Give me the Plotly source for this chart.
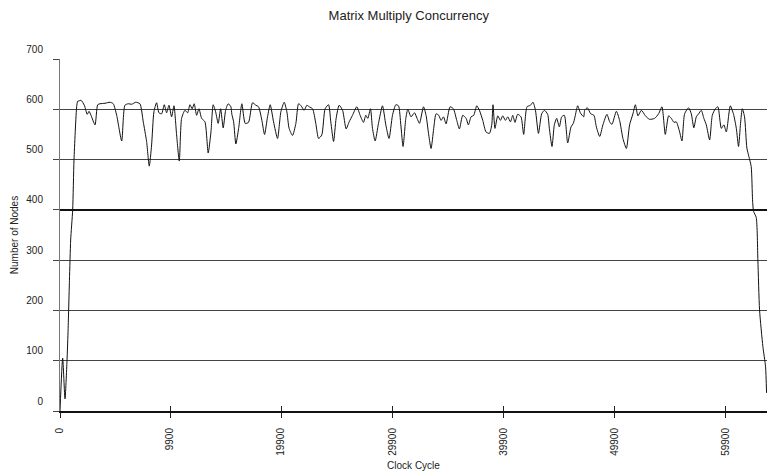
import plotly.graph_objects as go

title_text = "Matrix Multiply Concurrency"
x_title = "Clock Cycle"
y_title = "Number of Nodes"

x_tick_vals = [0, 9900, 19900, 29900, 39900, 49900, 59900]
x_tick_text = ["0", "9900", "19900", "29900", "39900", "49900", "59900"]
y_tick_vals = [0, 100, 200, 300, 400, 500, 600, 700]
y_bold_grid = [400]

cycles = [0, 240, 450, 630, 720, 850, 960, 1140, 1260, 1500, 1590, 1750, 1890, 2190, 2450, 2610, 2790, 3150,
          3390, 3600, 4050, 4500, 4790, 5100, 5550, 5840, 6140, 6450, 6810, 7190, 7490, 7790, 8030, 8240,
          8450, 8690, 8900, 9140, 9380, 9590, 9800, 10040, 10250, 10490, 10730, 10940, 11240, 11480, 11690,
          11890, 12070, 12290, 12500, 12740, 13040, 13330, 13580, 13780, 14000, 14230, 14450, 14680, 14900,
          15130, 15370, 15460, 15620, 15820, 16070, 16360, 16660, 16960, 17320, 17620, 17860, 18160, 18400,
          18670, 18910, 19210, 19570, 19870, 20170, 20410, 20610, 20920, 21220, 21460, 21690, 21960, 22210,
          22410, 22720, 23010, 23260, 23550, 23850, 24160, 24360, 24610, 24840, 25110, 25420, 25740, 26010,
          26310, 26700, 27000, 27300, 27510, 27690, 27930, 28110, 28350, 28650, 29010, 29310, 29600, 29910,
          30210, 30450, 30660, 30860, 31110, 31290, 31580, 31890, 32120, 32340, 32700, 32930, 33170, 33380,
          33620, 33830, 34070, 34280, 34500, 34730, 35090, 35390, 35690, 35930, 36230, 36530, 36740, 36980,
          37220, 37490, 37730, 38030, 38320, 38630, 38840, 38950, 39130, 39380, 39620, 39830, 40070, 40280,
          40520, 40730, 40930, 41170, 41470, 41710, 42010, 42320, 42550, 42770, 43040, 43330, 43580, 43870,
          44020, 44260, 44470, 44680, 44920, 45130, 45370, 45670, 45970, 46180, 46330, 46570, 46810, 47110,
          47200, 47440, 47740, 48030, 48250, 48550, 48840, 49200, 49450, 49650, 50050, 50340, 50640, 50950,
          51240, 51540, 51760, 51990, 52300, 52660, 53040, 53490, 53850, 54150, 54450, 54750, 54990, 55230,
          55440, 55740, 55950, 56190, 56550, 56790, 57020, 57240, 57450, 57690, 57920, 58140, 58440, 58680,
          58950, 59180, 59490, 59720, 59940, 60300, 60590, 60840, 61040, 61220, 61380, 61580, 61790, 61970,
          62180, 62300, 62390, 62630, 62780, 62930, 63230, 63470, 63560]

nodes = [0, 105, 24, 100, 155, 260, 340, 400, 500, 605, 616, 617, 618, 608, 590, 596, 588, 569,
         609, 611, 612, 614, 611, 588, 537, 608, 611, 610, 614, 611, 575, 536, 487, 529,
         595, 613, 593, 591, 609, 593, 608, 585, 607, 549, 497, 582, 598, 593, 609,
         601, 611, 588, 601, 582, 575, 513, 555, 609, 595, 572, 601, 563, 598,
         611, 605, 590, 575, 531, 562, 611, 572, 574, 613, 608, 605, 578, 550,
         585, 609, 575, 542, 595, 614, 595, 562, 548, 572, 611, 607, 598, 608,
         605, 601, 572, 542, 549, 601, 609, 575, 536, 582, 608, 598, 561, 575,
         588, 605, 588, 574, 588, 582, 601, 562, 537, 572, 607, 569, 542, 588,
         609, 607, 569, 526, 582, 600, 585, 593, 582, 572, 605, 588, 549, 522,
         562, 591, 588, 578, 585, 571, 605, 601, 578, 561, 588, 582, 569, 585,
         588, 607, 598, 578, 555, 552, 569, 609, 562, 587, 578, 587, 578, 585,
         575, 588, 574, 590, 585, 550, 605, 608, 614, 598, 552, 591, 598, 590,
         562, 526, 569, 582, 565, 585, 588, 533, 565, 572, 585, 607, 593, 585,
         598, 603, 591, 588, 565, 546, 569, 590, 575, 570, 596, 578, 542, 522,
         569, 591, 609, 587, 598, 587, 580, 582, 591, 605, 550, 587, 582, 574,
         575, 555, 537, 591, 603, 591, 563, 585, 591, 598, 582, 569, 539, 588,
         601, 605, 562, 569, 555, 607, 590, 562, 526, 572, 601, 585, 523, 506,
         486, 420, 397, 385, 300, 201, 128, 88, 36]

FONT = "Liberation Sans, Arial, sans-serif"
X_MAX = 63600

fig = go.Figure()
fig.add_trace(go.Scatter(x=cycles, y=nodes, mode="lines",
                         line=dict(color="#111111", width=1, shape="spline", smoothing=0.6),
                         showlegend=False, hoverinfo="x+y"))
# dummy trace to activate overlay axes
fig.add_trace(go.Scatter(x=[None], y=[None], xaxis="x2", yaxis="y2", showlegend=False, hoverinfo="skip"))

fig.update_layout(
    width=767, height=473,
    margin=dict(l=60, r=0, t=59, b=62, autoexpand=False),
    paper_bgcolor="white", plot_bgcolor="white",
    font=dict(family=FONT, size=10, color="#222222"),
    title=dict(text=title_text, x=0.533, xanchor="center", y=0.968, yanchor="middle",
               font=dict(family=FONT, size=13, color="#222222")),
    xaxis=dict(range=[0, X_MAX], tickmode="array", tickvals=x_tick_vals, ticktext=x_tick_text,
               tickangle=-90, ticks="outside", ticklen=5, tickcolor="#222222", tickwidth=1,
               showgrid=False, zeroline=False, showline=True, linecolor="#111111", linewidth=2,
               ticklabelstandoff=6, automargin=False,
               title=dict(text=x_title, standoff=7, font=dict(size=10, color="#222222")),
               tickfont=dict(size=10)),
    xaxis2=dict(range=[0, X_MAX], overlaying="x", tickmode="array", tickvals=x_tick_vals,
                ticks="inside", ticklen=5, tickcolor="#222222", tickwidth=1, showticklabels=False,
                showgrid=False, zeroline=False, showline=False, side="bottom", anchor="y",
                automargin=False),
    yaxis=dict(range=[0, 700], tickmode="array", tickvals=y_tick_vals,
               ticks="outside", ticklen=6, tickcolor="#444444",
               showgrid=True, gridcolor="#444444", gridwidth=1,
               zeroline=False, showline=True, linecolor="#777777", linewidth=1,
               ticklabelposition="outside", ticklabelshift=-10, ticklabelstandoff=8,
               automargin=False,
               title=dict(text=y_title, standoff=5, font=dict(size=10, color="#222222")),
               tickfont=dict(size=10)),
    yaxis2=dict(range=[0, 700], overlaying="y", tickmode="array", tickvals=y_bold_grid,
                showticklabels=False, showgrid=True, gridcolor="#111111", gridwidth=2,
                zeroline=False, showline=False, side="left", anchor="x", automargin=False),
)

fig.write_html("out.html",
               config={"displayModeBar": False},
               post_script="document.body.style.margin='0';document.body.style.overflow='hidden';")
